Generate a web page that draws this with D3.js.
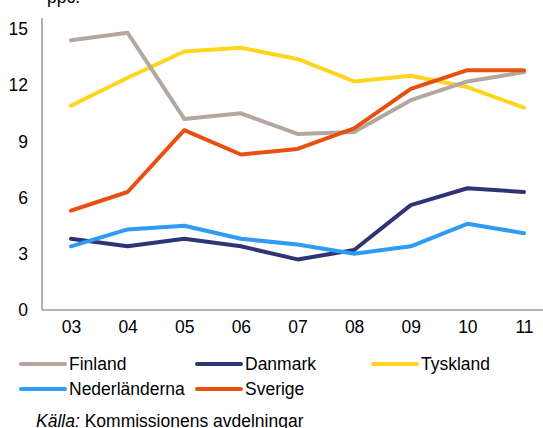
<!DOCTYPE html>
<html>
<head>
<meta charset="utf-8">
<script src="https://cdn.jsdelivr.net/npm/d3@7"></script>
<style>
  body { margin: 0; background: #fff; }
  svg { display: block; font-family: "Liberation Sans", Arial, sans-serif; }
</style>
</head>
<body>
<svg id="chart" width="543" height="428"></svg>
<script>
var width = 543, height = 428

// data
var years = ['03', '04', '05', '06', '07', '08', '09', '10', '11']
var yTicks = [0, 3, 6, 9, 12, 15]

var finland       = [14.4, 14.8, 10.2, 10.5, 9.4, 9.5, 11.2, 12.2, 12.7]
var danmark       = [3.8, 3.4, 3.8, 3.4, 2.7, 3.2, 5.6, 6.5, 6.3]
var tyskland      = [10.9, 12.4, 13.8, 14.0, 13.4, 12.2, 12.5, 11.9, 10.8]
var nederlanderna = [3.4, 4.3, 4.5, 3.8, 3.5, 3.0, 3.4, 4.6, 4.1]
var sverige       = [5.3, 6.3, 9.6, 8.3, 8.6, 9.7, 11.8, 12.8, 12.8]

var series = [
  {name: 'Finland', values: finland, color: '#b4a7a0'},
  {name: 'Danmark', values: danmark, color: '#2f3574'},
  {name: 'Tyskland', values: tyskland, color: '#ffd520'},
  {name: 'Nederländerna', values: nederlanderna, color: '#2e9bf4'},
  {name: 'Sverige', values: sverige, color: '#e8500f'}
]

// drawing order (later = on top)
var drawOrder = ['Tyskland', 'Finland', 'Danmark', 'Nederländerna', 'Sverige']

var axisColor = '#9a9a9a'
var fontSize = '17.5px'

var x = d3.scalePoint().domain(years).range([71, 524])
var y = d3.scaleLinear().domain([0, 15]).range([310, 29])

var svg = d3.select('svg#chart')

// unit label (cut off at the top like the original)
svg.append('text')
    .attr('x', 47)
    .attr('y', 3)
    .style('font-size', fontSize)
    .text('ppc.')

// y axis
var yAxis = svg.append('g')
    .attr('transform', 'translate(42,0)')
    .call(d3.axisLeft(y).tickValues(yTicks).tickSize(0).tickPadding(14))
yAxis.select('.domain').attr('stroke', axisColor).attr('stroke-width', 1.5)
    .attr('d', 'M0,18V310')
yAxis.selectAll('text').style('font-size', fontSize).attr('fill', '#000')
    .attr('font-family', null)

// x axis
var xAxis = svg.append('g')
    .attr('transform', 'translate(0,310)')
    .call(d3.axisBottom(x).tickSize(0).tickPadding(11))
xAxis.select('.domain').attr('stroke', axisColor).attr('stroke-width', 1.5)
    .attr('d', 'M42,0H543')
xAxis.selectAll('text').style('font-size', fontSize).attr('fill', '#000')
    .attr('font-family', null)

var line = d3.line()
    .x((d, i) => x(years[i]))
    .y(d => y(d))

var ordered = drawOrder.map(n => series.find(s => s.name == n))

svg.append('g')
  .selectAll('path')
  .data(ordered)
  .join('path')
    .attr('fill', 'none')
    .attr('stroke', d => d.color)
    .attr('stroke-width', 4)
    .attr('stroke-linejoin', 'round')
    .attr('stroke-linecap', 'round')
    .attr('d', d => line(d.values))

// legend
var legendPos = [
  {x: 21, y: 364}, {x: 197, y: 364}, {x: 373, y: 364},
  {x: 21, y: 389}, {x: 197, y: 389}
]

var legend = svg.append('g')
  .selectAll('g')
  .data(series)
  .join('g')
    .attr('transform', (d, i) => `translate(${legendPos[i].x},${legendPos[i].y})`)

legend.append('line')
    .attr('x1', 0).attr('x2', 44)
    .attr('stroke', d => d.color)
    .attr('stroke-width', 4)
    .attr('stroke-linecap', 'round')

legend.append('text')
    .attr('x', 48)
    .attr('dominant-baseline', 'central')
    .style('font-size', fontSize)
    .text(d => d.name)

// source
var src = svg.append('text')
    .attr('x', 36)
    .attr('y', 427)
    .style('font-size', fontSize)
src.append('tspan').style('font-style', 'italic').text('Källa:')
src.append('tspan').text(' Kommissionens avdelningar')
</script>
</body>
</html>
